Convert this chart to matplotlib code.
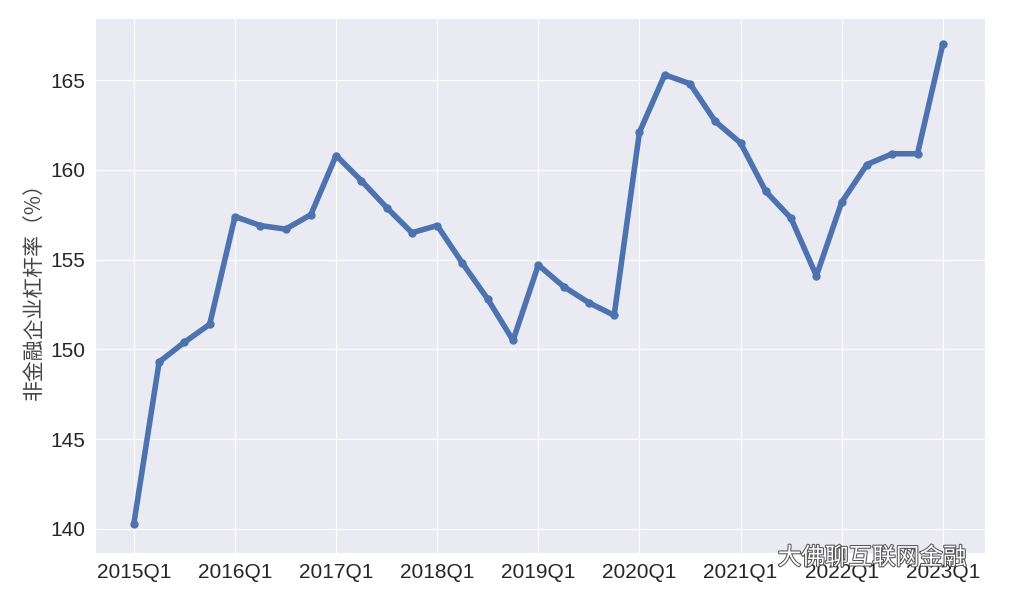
import matplotlib
matplotlib.use('Agg')
import matplotlib.pyplot as plt
import matplotlib.patheffects as pe
import seaborn as sns

sns.set_style('darkgrid')
plt.rcParams['font.family'] = ['Liberation Sans', 'Noto Sans CJK SC', 'DejaVu Sans']

# quarterly leverage ratio of non-financial corporates, 2015Q1 .. 2023Q1
quarters = [f"{y}Q{q}" for y in range(2015, 2024) for q in range(1, 5)][:33]
leverage = [140.3, 149.3, 150.4, 151.4,
            157.4, 156.9, 156.7, 157.5,
            160.8, 159.4, 157.9, 156.5,
            156.9, 154.8, 152.8, 150.5,
            154.7, 153.5, 152.6, 151.9,
            162.1, 165.3, 164.8, 162.7,
            161.5, 158.8, 157.3, 154.1,
            158.2, 160.3, 160.9, 160.9,
            167.0]
tick_labels = [f"{y}Q1" for y in range(2015, 2024)]

fig, ax = plt.subplots(figsize=(10.1, 6.07), dpi=100)
fig.subplots_adjust(left=0.094, right=0.975, top=0.97, bottom=0.089)
x = list(range(len(quarters)))
ax.plot(x, leverage, color='#4c72b0', linewidth=4, marker='o', markersize=5)

ax.set_xticks(x[::4])
ax.set_xticklabels(tick_labels, fontsize=15)
ax.set_yticks([140, 145, 150, 155, 160, 165])
ax.tick_params(axis='y', labelsize=15)
ax.set_xlim(-1.54, 33.66)
ax.set_ylim(138.66, 168.45)
ax.set_ylabel('非金融企业杠杆率（%）', fontsize=15, color='#444444',
              family=['Noto Sans CJK SC', 'DejaVu Sans'])

# watermark
fig.text(0.77, 0.07, '大佛聊互联网金融', fontsize=17, color='white',
         family=['Noto Sans CJK SC', 'DejaVu Sans'],
         path_effects=[pe.withStroke(linewidth=1.5, foreground='#555555')])

fig.savefig('out.png')
